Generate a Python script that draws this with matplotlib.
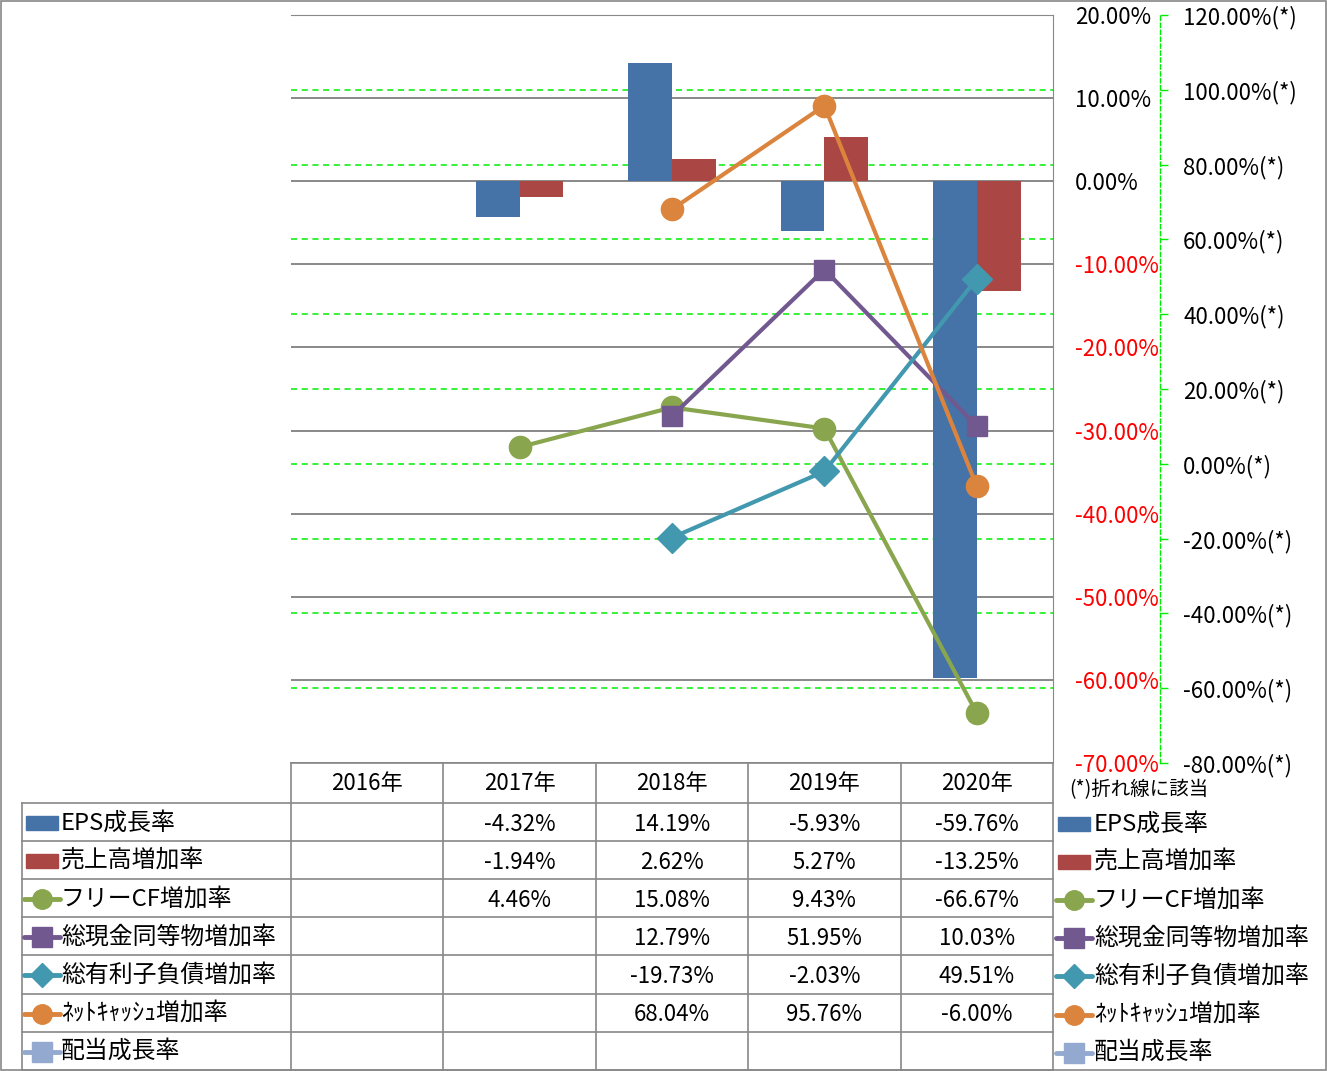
import numpy as np
import matplotlib.pyplot as plt
from matplotlib.patches import Rectangle

plt.rcParams['font.family'] = ['Noto Sans CJK JP', 'DejaVu Sans']

# data (%)
years = ['2016年', '2017年', '2018年', '2019年', '2020年']
eps_growth = [np.nan, -4.32, 14.19, -5.93, -59.76]
sales_growth = [np.nan, -1.94, 2.62, 5.27, -13.25]
fcf_growth = [np.nan, 4.46, 15.08, 9.43, -66.67]
cash_growth = [np.nan, np.nan, 12.79, 51.95, 10.03]
debt_growth = [np.nan, np.nan, -19.73, -2.03, 49.51]
netcash_growth = [np.nan, np.nan, 68.04, 95.76, -6.00]
div_growth = [np.nan, np.nan, np.nan, np.nan, np.nan]

bar_series = [
    ('EPS成長率', eps_growth, '#4572A7'),
    ('売上高増加率', sales_growth, '#AA4643'),
]
line_series = [
    ('フリーCF増加率', fcf_growth, '#89A54E', 'o'),
    ('総現金同等物増加率', cash_growth, '#71588F', 's'),
    ('総有利子負債増加率', debt_growth, '#4198AF', 'D'),
    ('ﾈｯﾄｷｬｯｼｭ増加率', netcash_growth, '#DB843D', 'o'),
    ('配当成長率', div_growth, '#93A9CF', 's'),
]

W, H = 1327, 1071
PX = 72 / 100  # points per pixel
FS = 16


def box(x0, y0, x1, y1):
    return [x0 / W, 1 - y1 / H, (x1 - x0) / W, (y1 - y0) / H]


fig = plt.figure(figsize=(W / 100, H / 100), dpi=100)
fig.patch.set_facecolor('white')

PL, PT, PR, PB = 291, 15, 1053, 763
x = np.arange(len(years))

# --- secondary scale (line series): bottom layer with green grid + spine
ax2 = fig.add_axes(box(PL, PT, PR, PB))
ax2.set_zorder(0)
ax2.yaxis.tick_right()
ax2.set_xlim(-0.5, len(years) - 0.5)
ax2.set_ylim(-80, 120)
r_ticks = np.arange(-80, 121, 20)
ax2.set_yticks(r_ticks)
ax2.set_yticklabels([f'{v:.2f}%(*)' for v in r_ticks])
ax2.tick_params(axis='y', direction='out', length=8 * PX, width=1,
                color='#00ee00', pad=15 * PX, labelsize=FS)
for lbl, v in zip(ax2.yaxis.get_ticklabels(which='major'), r_ticks):
    lbl.set_color('red' if v < 0 else 'black')
ax2.set_xticks([])
for s in ['left', 'top', 'bottom']:
    ax2.spines[s].set_visible(False)
ax2.spines['right'].set_position(('outward', 107 * PX))
ax2.spines['right'].set_color('#00ee00')
ax2.spines['right'].set_linestyle((0, (3, 2)))
ax2.spines['right'].set_linewidth(1)
ax2.grid(axis='y', color='#00ee00', linestyle=(0, (4, 3)), linewidth=1.1)
ax2.set_axisbelow(True)

# --- primary scale (bars)
ax = fig.add_axes(box(PL, PT, PR, PB))
ax.set_zorder(1)
ax.patch.set_visible(False)
ax.yaxis.tick_right()
ax.set_xlim(-0.5, len(years) - 0.5)
ax.set_ylim(-70, 20)
l_ticks = np.arange(-70, 21, 10)
ax.set_yticks(l_ticks)
ax.set_yticklabels([f'{v:.2f}%' for v in l_ticks])
ax.tick_params(axis='y', length=0, pad=22 * PX, labelsize=FS)
for lbl, v in zip(ax.yaxis.get_ticklabels(), l_ticks):
    lbl.set_color('red' if v < 0 else 'black')
ax.set_xticks([])
ax.spines['left'].set_visible(False)
ax.spines['bottom'].set_visible(False)
ax.spines['top'].set_color('#888888')
ax.spines['right'].set_color('#888888')
ax.grid(axis='y', color='#888888', linewidth=1.4)
ax.set_axisbelow(True)

bw = 0.288
for i, (name, vals, col) in enumerate(bar_series):
    off = (i - 0.5) * bw
    ax.bar(x + off, vals, width=bw, color=col, zorder=2)

# --- line series on top
ax3 = fig.add_axes(box(PL, PT, PR, PB))
ax3.set_zorder(2)
ax3.patch.set_visible(False)
ax3.set_xlim(-0.5, len(years) - 0.5)
ax3.set_ylim(-80, 120)
ax3.axis('off')
msize = {'o': 16, 's': 15, 'D': 15}
for name, vals, col, mk in line_series:
    ax3.plot(x, vals, color=col, lw=3, marker=mk, ms=msize[mk],
             solid_capstyle='round')

# --- data table + legends (pixel layout)
axt = fig.add_axes([0, 0, 1, 1])
axt.set_zorder(3)
axt.patch.set_visible(False)
axt.set_xlim(0, W)
axt.set_ylim(H, 0)
axt.axis('off')

gc = '#888888'
col_w = (PR - PL) / len(years)
col_edges = [PL + i * col_w for i in range(len(years) + 1)]
head_bot = 803
row_h = 38.1
n_rows = len(bar_series) + len(line_series)
row_edges = [head_bot + i * row_h for i in range(n_rows + 1)]
tb = row_edges[-1]

axt.plot([PL, PR], [PB, PB], color=gc, lw=1.2)
for xe in col_edges:
    axt.plot([xe, xe], [PB, tb], color=gc, lw=1.2)
axt.plot([22, 22], [head_bot, tb], color=gc, lw=1.2)
for ye in row_edges:
    axt.plot([22, PR], [ye, ye], color=gc, lw=1.2)

for i, yr in enumerate(years):
    axt.text(col_edges[i] + col_w / 2, (PB + head_bot) / 2 + 1, yr,
             ha='center', va='center', fontsize=FS)

all_series = [(n, v, c, None) for n, v, c in bar_series] + line_series


def legend_item(x0, yc, name, col, mk, text_x):
    if mk is None:
        axt.add_patch(Rectangle((x0 + 2, yc - 7), 32, 14, color=col,
                                clip_on=False))
    else:
        axt.plot([x0, x0 + 36], [yc, yc], color=col, lw=3.5,
                 solid_capstyle='round', clip_on=False)
        axt.plot([x0 + 18], [yc], marker=mk, color=col,
                 ms=14 if mk != 'D' else 12, clip_on=False)
    axt.text(text_x, yc, name, ha='left', va='center', fontsize=17.2,
             clip_on=False)


for r, (name, vals, col, mk) in enumerate(all_series):
    yc = (row_edges[r] + row_edges[r + 1]) / 2
    legend_item(24, yc + 1, name, col, mk, 61)
    legend_item(1056, yc + 2, name, col, mk, 1094)
    for i, v in enumerate(vals):
        if not np.isnan(v):
            axt.text(col_edges[i] + col_w / 2, yc + 2, f'{v:.2f}%',
                     ha='center', va='center', fontsize=FS)

axt.text(1069, 790, '(*)折れ線に該当', ha='left', va='center', fontsize=14)

# outer frame
axt.add_patch(Rectangle((0.5, 0.5), W - 1.5, H - 1.5, fill=False,
                        edgecolor=gc, lw=1.2, clip_on=False))

fig.savefig('out.png', dpi=100)
